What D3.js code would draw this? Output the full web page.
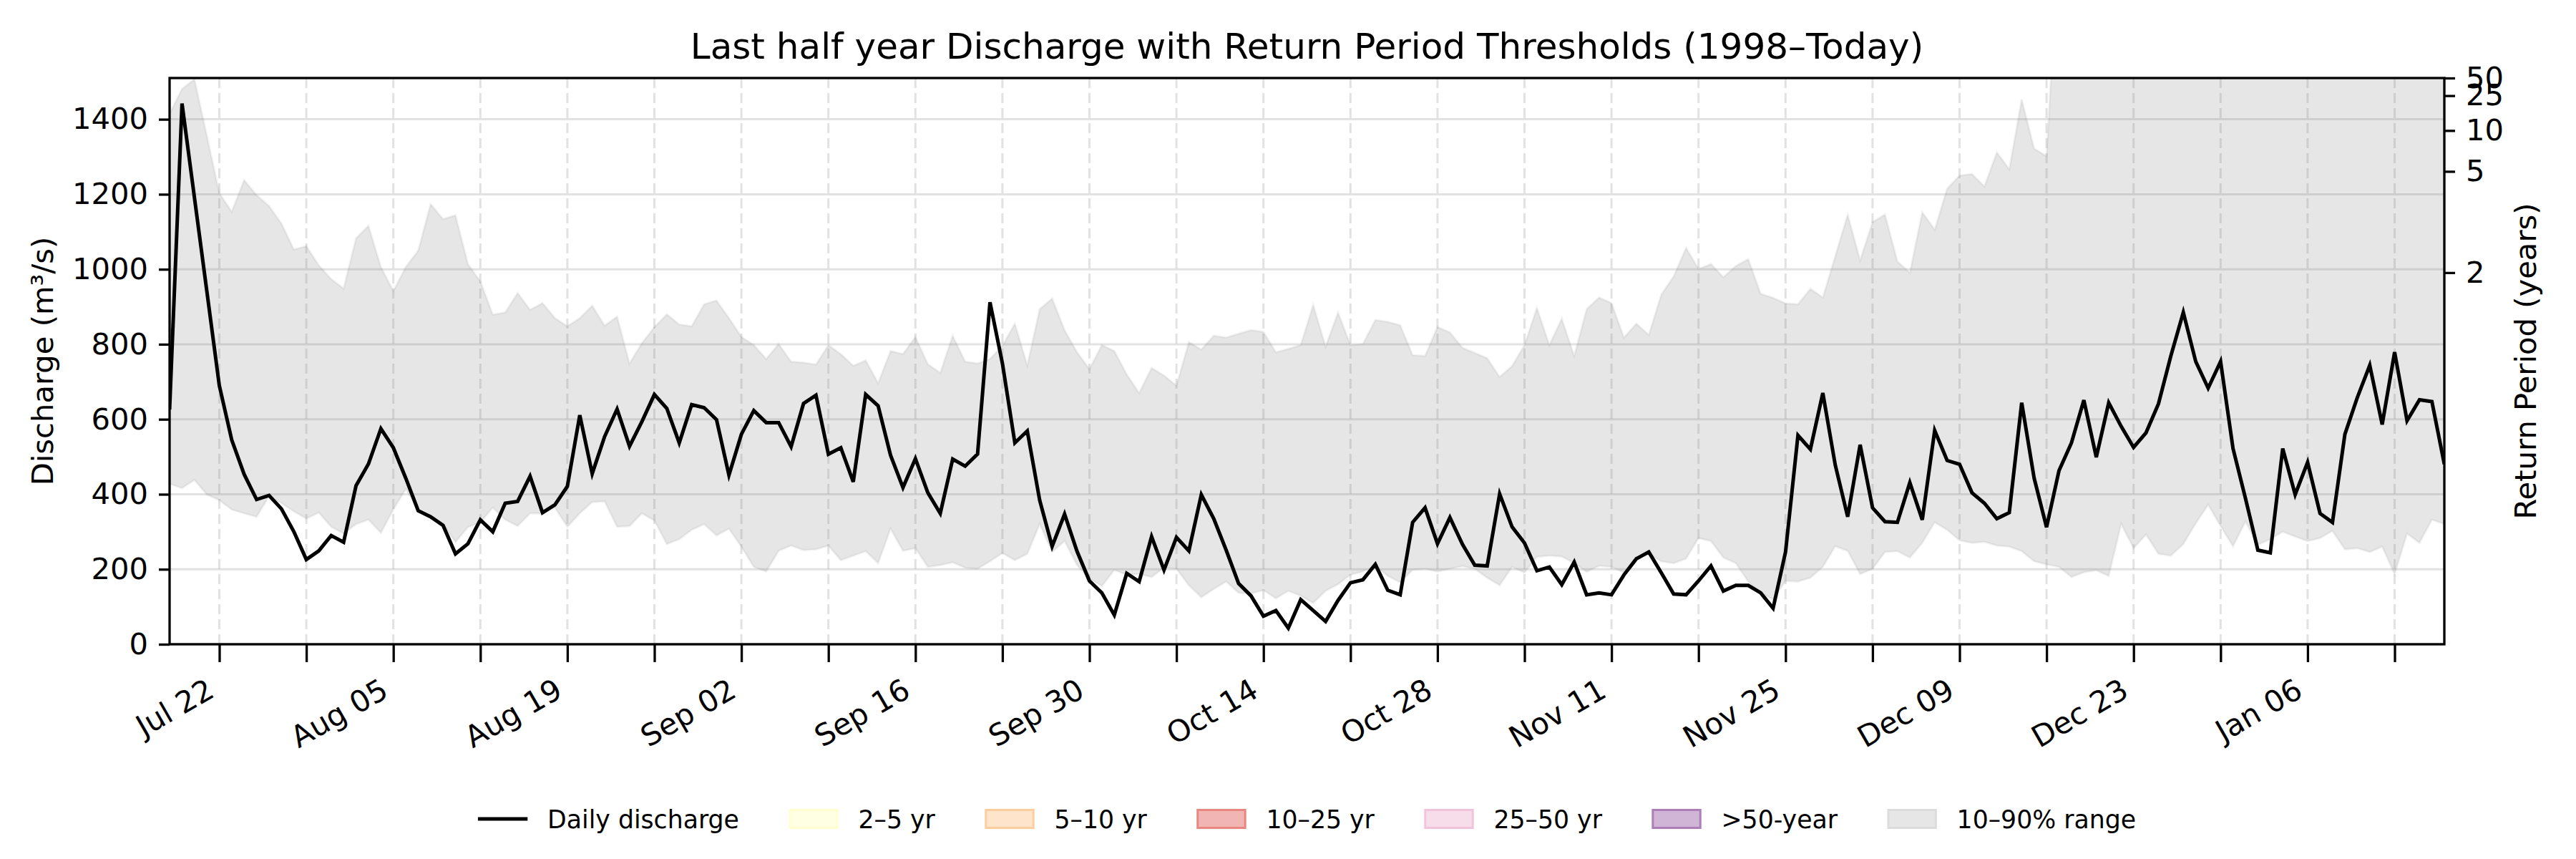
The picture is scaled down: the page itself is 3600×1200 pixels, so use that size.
<!DOCTYPE html>
<html lang="en">
<head>
<meta charset="UTF-8">
<title>Last half year Discharge</title>
<script src="https://cdn.jsdelivr.net/npm/d3@7"></script>
<style>
  html, body { margin: 0; padding: 0; background: #fff; }
  svg { display: block; font-family: "DejaVu Sans", sans-serif; }
</style>
</head>
<body>
<div id="chart"></div>
<script>
// daily values, 2024-07-18 .. 2025-01-17 (184 days)
const startDate = "2024-07-18";

const discharge = [
  626, 1442, 1191, 941, 690, 545, 453, 386, 397, 361,
  300, 226, 249, 290, 272, 423, 481, 575, 524, 443,
  356, 340, 317, 241, 268, 332, 300, 376, 381, 448,
  351, 372, 421, 611, 455, 554, 627, 528, 594, 666,
  629, 537, 639, 631, 599, 451, 560, 623, 591, 591,
  527, 642, 664, 507, 524, 433, 666, 636, 504, 418,
  495, 404, 349, 494, 475, 507, 912, 749, 537, 569,
  384, 261, 347, 248, 169, 137, 78, 189, 167, 287,
  198, 285, 249, 399, 335, 251, 162, 129, 75, 90,
  43, 119, 90, 61, 117, 164, 172, 213, 144, 132,
  325, 364, 268, 338, 267, 211, 209, 401, 313, 270,
  196, 206, 159, 219, 132, 137, 132, 185, 228, 246,
  191, 134, 132, 169, 209, 142, 157, 157, 137, 96,
  246, 557, 520, 670, 478, 340, 532, 364, 327, 325,
  431, 332, 570, 490, 480, 404, 376, 335, 351, 644,
  443, 312, 463, 537, 651, 499, 644, 581, 525, 564,
  641, 769, 885, 754, 683, 754, 522, 389, 251, 244,
  522, 399, 485, 349, 325, 560, 658, 744, 586, 779,
  596, 652, 647, 480
];

const q90 = [
  1415, 1481, 1507, 1356, 1203, 1154, 1238, 1198, 1169, 1122,
  1053, 1062, 1011, 974, 949, 1083, 1116, 1006, 942, 1006,
  1050, 1174, 1134, 1144, 1014, 968, 879, 885, 937, 892,
  910, 870, 848, 870, 903, 850, 874, 749, 803, 846,
  880, 853, 848, 907, 917, 870, 820, 798, 761, 801,
  754, 751, 746, 798, 774, 743, 757, 697, 782, 774,
  820, 747, 724, 823, 754, 749, 761, 796, 855, 744,
  894, 922, 838, 779, 734, 798, 782, 720, 670, 737,
  717, 690, 806, 786, 823, 818, 828, 838, 833, 779,
  788, 798, 905, 794, 885, 798, 801, 865, 860, 851,
  771, 769, 846, 832, 791, 777, 763, 713, 742, 798,
  897, 798, 868, 769, 894, 925, 910, 818, 855, 825,
  932, 981, 1057, 1001, 1014, 979, 1009, 1027, 935, 924,
  909, 907, 948, 925, 1035, 1146, 1024, 1126, 1146, 1021,
  991, 1152, 1106, 1215, 1250, 1254, 1221, 1312, 1267, 1453,
  1322, 1302, 1900, 2150, 2300, 2250, 2400, 2350, 2200, 2100,
  2250, 2400, 2600, 2500, 2450, 2300, 2200, 2100, 2000, 1950,
  2050, 2100, 2000, 1900, 1950, 2050, 2000, 1900, 1850, 1950,
  2000, 1900, 1850, 1800
];

const q10 = [
  428, 416, 438, 399, 384, 359, 349, 340, 394, 376,
  354, 335, 351, 313, 295, 320, 332, 297, 359, 414,
  359, 340, 320, 272, 312, 325, 364, 332, 315, 349,
  349, 364, 313, 349, 379, 381, 313, 315, 349, 330,
  267, 280, 305, 320, 290, 308, 260, 206, 194, 249,
  263, 251, 253, 263, 224, 236, 248, 216, 308, 249,
  256, 206, 211, 218, 204, 201, 221, 243, 224, 241,
  320, 246, 275, 211, 175, 155, 198, 185, 187, 179,
  204, 201, 157, 125, 147, 167, 137, 135, 144, 122,
  142, 129, 110, 142, 160, 185, 194, 208, 182, 165,
  198, 201, 194, 201, 208, 201, 177, 157, 206, 191,
  233, 236, 234, 216, 193, 209, 206, 191, 228, 241,
  221, 216, 228, 283, 275, 231, 216, 167, 137, 119,
  169, 167, 177, 206, 261, 249, 187, 201, 246, 248,
  231, 270, 325, 305, 277, 270, 273, 263, 260, 248,
  221, 213, 206, 179, 192, 197, 182, 320, 256, 292,
  241, 236, 267, 322, 372, 315, 261, 327, 265, 280,
  300, 287, 275, 283, 302, 253, 256, 246, 260, 187,
  295, 270, 332, 320
];

// return period thresholds (right axis)
const returnPeriods = [2, 5, 10, 25, 50];
const thresholdValues = [991, 1261, 1370, 1463, 1510];

const yTicks = [0, 200, 400, 600, 800, 1000, 1200, 1400];
const majorTickDates = ["2024-07-22", "2024-08-05", "2024-08-19", "2024-09-02", "2024-09-16",
  "2024-09-30", "2024-10-14", "2024-10-28", "2024-11-11", "2024-11-25",
  "2024-12-09", "2024-12-23", "2025-01-06"];
const majorTickLabels = ["Jul 22", "Aug 05", "Aug 19", "Sep 02", "Sep 16", "Sep 30", "Oct 14",
  "Oct 28", "Nov 11", "Nov 25", "Dec 09", "Dec 23", "Jan 06"];

const legendLabels = ["Daily discharge", "2–5 yr", "5–10 yr", "10–25 yr", "25–50 yr", ">50-year", "10–90% range"];
const legendFills = [null, "#ffffe3", "#fde4cb", "#f1b5b3", "#f6dde9", "#d1b5d6", "#e6e6e6"];
const legendEdges = [null, "#ffffd2", "#fdcd9e", "#e8877f", "#f2c4da", "#ac7fb8", "#dcdcdc"];

// ---------------------------------------------------------------
const W = 3600, H = 1200;
const margin = { top: 109, right: 184, bottom: 300, left: 237 };
const width = W - margin.left - margin.right;
const height = H - margin.top - margin.bottom;

const parse = d3.utcParse("%Y-%m-%d");
const t0 = parse(startDate);
const rows = discharge.map((q, i) => ({
  date: d3.utcDay.offset(t0, i), q: q, lo: q10[i], hi: q90[i]
}));

const svg = d3.select("#chart").append("svg")
  .attr("width", W).attr("height", H);

const g = svg.append("g")
  .attr("transform", `translate(${margin.left},${margin.top})`);

const x = d3.scaleUtc()
  .domain(d3.extent(rows, d => d.date))
  .range([0, width]);

const y = d3.scaleLinear()
  .domain([0, thresholdValues[thresholdValues.length - 1]])
  .range([height, 0]);

svg.append("defs").append("clipPath").attr("id", "plot-clip")
  .append("rect").attr("width", width).attr("height", height);

const weekly = d3.utcMonday.range(x.domain()[0], d3.utcDay.offset(x.domain()[1], 1));
const majorSet = new Map(majorTickDates.map((s, i) => [+parse(s), majorTickLabels[i]]));

// grid
const gridColor = "rgba(150,150,150,0.28)";
g.append("g").selectAll("line").data(yTicks).enter().append("line")
  .attr("x1", 0).attr("x2", width)
  .attr("y1", d => y(d)).attr("y2", d => y(d))
  .attr("stroke", gridColor).attr("stroke-width", 3);

g.append("g").selectAll("line").data(weekly).enter().append("line")
  .attr("x1", d => x(d)).attr("x2", d => x(d))
  .attr("y1", 0).attr("y2", height)
  .attr("stroke", gridColor).attr("stroke-width", 3)
  .attr("stroke-dasharray", "14,7");

// 10-90% band
const plot = g.append("g").attr("clip-path", "url(#plot-clip)");

plot.append("path").datum(rows)
  .attr("fill", "rgba(128,128,128,0.2)")
  .attr("d", d3.area().x(d => x(d.date)).y0(d => y(d.lo)).y1(d => y(d.hi)));

["lo", "hi"].forEach(k => {
  plot.append("path").datum(rows)
    .attr("fill", "none")
    .attr("stroke", "rgba(128,128,128,0.1)")
    .attr("stroke-width", 3)
    .attr("d", d3.line().x(d => x(d.date)).y(d => y(d[k])));
});

// discharge line
plot.append("path").datum(rows)
  .attr("fill", "none")
  .attr("stroke", "#000")
  .attr("stroke-width", 5)
  .attr("stroke-linejoin", "miter")
  .attr("d", d3.line().x(d => x(d.date)).y(d => y(d.q)));

// axes
const fontSize = 41.7;

const xAxis = g.append("g")
  .attr("transform", `translate(0,${height})`)
  .call(d3.axisBottom(x).tickValues(weekly).tickSize(25)
    .tickFormat(d => majorSet.get(+d) || ""));
xAxis.select(".domain").remove();
xAxis.selectAll(".tick line").attr("stroke", "#000").attr("stroke-width", 3.3);
xAxis.selectAll(".tick text")
  .attr("y", null).attr("dy", null)
  .attr("text-anchor", "end")
  .attr("transform", "translate(-5,72) rotate(-30)")
  .attr("font-size", fontSize).attr("font-family", "DejaVu Sans").attr("fill", "#000");

const yAxis = g.append("g")
  .call(d3.axisLeft(y).tickValues(yTicks).tickSize(15).tickPadding(15)
    .tickFormat(d3.format("d")));
yAxis.select(".domain").remove();
yAxis.selectAll(".tick line").attr("stroke", "#000").attr("stroke-width", 3.3);
yAxis.selectAll(".tick text")
  .attr("font-size", fontSize).attr("font-family", "DejaVu Sans").attr("fill", "#000");

const rAxis = g.append("g")
  .attr("transform", `translate(${width},0)`)
  .call(d3.axisRight(y).tickValues(thresholdValues).tickSize(15).tickPadding(15)
    .tickFormat((d, i) => returnPeriods[i]));
rAxis.select(".domain").remove();
rAxis.selectAll(".tick line").attr("stroke", "#000").attr("stroke-width", 3.3);
rAxis.selectAll(".tick text")
  .attr("font-size", fontSize).attr("font-family", "DejaVu Sans").attr("fill", "#000");

// spines
g.append("rect")
  .attr("width", width).attr("height", height)
  .attr("fill", "none").attr("stroke", "#000").attr("stroke-width", 3.3);

// labels
g.append("text")
  .attr("x", width / 2).attr("y", -27)
  .attr("text-anchor", "middle")
  .attr("font-size", 50)
  .text("Last half year Discharge with Return Period Thresholds (1998–Today)");

svg.append("text")
  .attr("transform", `translate(74,${margin.top + height / 2}) rotate(-90)`)
  .attr("text-anchor", "middle")
  .attr("font-size", fontSize)
  .text("Discharge (m³/s)");

svg.append("text")
  .attr("transform", `translate(3544,${margin.top + height / 2}) rotate(-90)`)
  .attr("text-anchor", "middle")
  .attr("font-size", fontSize)
  .text("Return Period (years)");

// legend
const lgFont = 34.7;
const handleW = 69.4, handleH = 25, textPad = 27.8, colGap = 69.4;
const legend = svg.append("g");
let cursor = 0;
legendLabels.forEach((label, i) => {
  const item = legend.append("g").attr("transform", `translate(${cursor},0)`);
  if (i === 0) {
    item.append("line")
      .attr("x1", 0).attr("x2", handleW).attr("y1", 0).attr("y2", 0)
      .attr("stroke", "#000").attr("stroke-width", 5);
  } else {
    item.append("rect")
      .attr("x", 1.5).attr("y", -handleH / 2)
      .attr("width", handleW - 3).attr("height", handleH)
      .attr("fill", legendFills[i])
      .attr("stroke", legendEdges[i]).attr("stroke-width", 3);
  }
  const txt = item.append("text")
    .attr("x", handleW + textPad).attr("y", 0)
    .attr("dy", "0.36em")
    .attr("font-size", lgFont)
    .text(label);
  cursor += handleW + textPad + txt.node().getComputedTextLength() + colGap;
});
const lgWidth = cursor - colGap;
legend.attr("transform", `translate(${margin.left + width / 2 - lgWidth / 2},1144)`);
</script>
</body>
</html>
